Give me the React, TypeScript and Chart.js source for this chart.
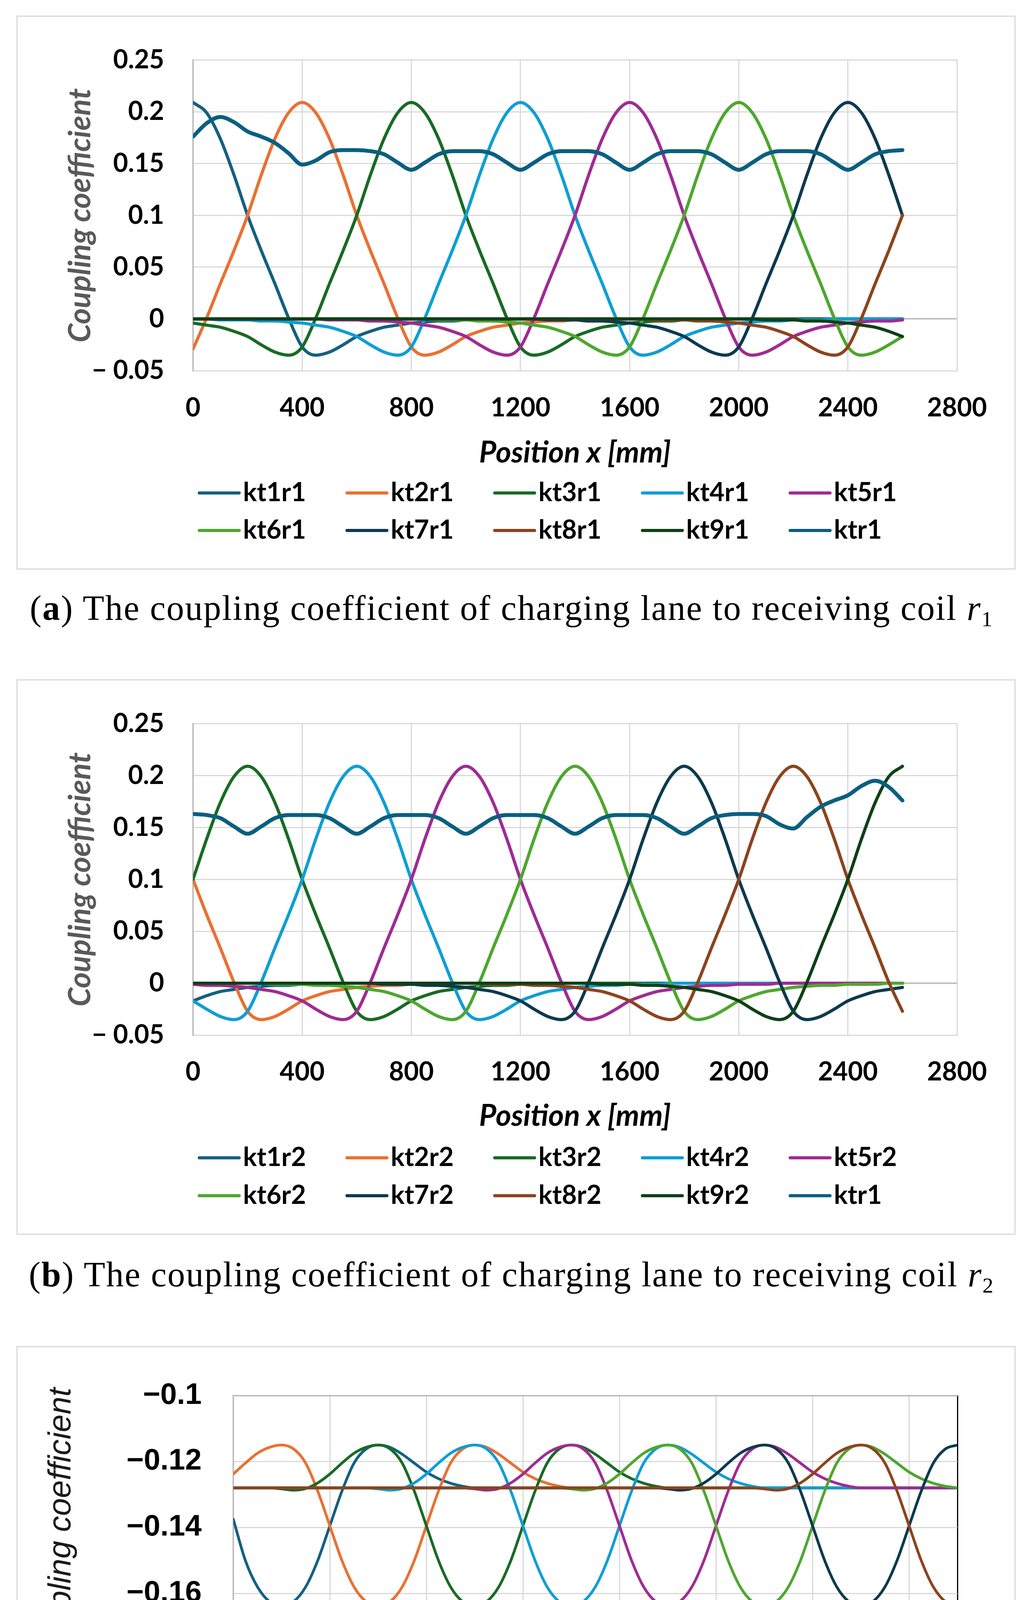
import React, { useEffect, useRef } from 'react';
import { Chart, registerables } from 'chart.js';

Chart.register(...registerables);

// ---------------- data ----------------
const positionsAB = [0,50,100,150,200,250,300,350,400,450,500,550,600,650,700,750,800,850,900,950,1000,1050,1100,1150,1200,1250,1300,1350,1400,1450,1500,1550,1600,1650,1700,1750,1800,1850,1900,1950,2000,2050,2100,2150,2200,2250,2300,2350,2400,2450,2500,2550,2600];
const positionsC = [0,50,100,150,200,250,300,350,400,450,500,550,600,650,700,750,800,850,900,950,1000,1050,1100,1150,1200,1250,1300,1350,1400,1450,1500,1550,1600,1650,1700,1750,1800,1850,1900,1950,2000,2050,2100,2150,2200,2250,2300,2350,2400,2450,2500,2550,2600,2650,2700,2750,2800,2850,2900,2950,3000];

const xTicksAB = [0, 400, 800, 1200, 1600, 2000, 2400, 2800];
const xTickLabelsAB = ['0', '400', '800', '1200', '1600', '2000', '2400', '2800'];
const yTicksAB = [-0.05, 0, 0.05, 0.1, 0.15, 0.2, 0.25];
const yTickLabelsAB = ['\u2212 0.05', '0', '0.05', '0.1', '0.15', '0.2', '0.25'];
const xTicksC = [0, 400, 800, 1200, 1600, 2000, 2400, 2800, 3000];
const xTickLabelsC = ['0', '400', '800', '1200', '1600', '2000', '2400', '2800', ''];
const yTicksC = [-0.18, -0.16, -0.14, -0.12, -0.1];
const yTickLabelsC = ['\u22120.18', '\u22120.16', '\u22120.14', '\u22120.12', '\u22120.1'];

const namesA = ['kt1r1', 'kt2r1', 'kt3r1', 'kt4r1', 'kt5r1', 'kt6r1', 'kt7r1', 'kt8r1', 'kt9r1', 'ktr1'];
const namesB = ['kt1r2', 'kt2r2', 'kt3r2', 'kt4r2', 'kt5r2', 'kt6r2', 'kt7r2', 'kt8r2', 'kt9r2', 'ktr1'];
const namesC = ['kt1t2', 'kt2t3', 'kt3t4', 'kt4t5', 'kt5t6', 'kt6t7', 'kt7t8', 'kt8t9'];

const colorsAB = ['#156082', '#E97132', '#196B24', '#0F9ED5', '#A02B93', '#4EA72E', '#0D3A4E', '#8C441E', '#0F4016', '#095F80'];
const colorsC = ['#156082', '#E97132', '#196B24', '#0F9ED5', '#A02B93', '#4EA72E', '#0D3A4E', '#8C441E'];

// panel (a): receiving coil r1
const kt1r1 = [0.209,0.199,0.174,0.139,0.100,0.066,0.034,0.001,-0.027,-0.035,
  -0.032,-0.025,-0.017,-0.012,-0.008,-0.006,-0.004,-0.003,-0.002,-0.002,
  -0.001,-0.001,-0.001,0,0,0,0,0,0,0,
  0,0,0,0,0,0,0,0,0,0,
  0,0,0,0,0,0,0,0,0,0,
  0,0,0];
const kt2r1 = [-0.029,0.001,0.034,0.066,0.100,0.139,0.174,0.199,0.209,0.199,
  0.174,0.139,0.100,0.066,0.034,0.001,-0.027,-0.035,-0.032,-0.025,
  -0.017,-0.012,-0.008,-0.006,-0.004,-0.003,-0.002,-0.002,-0.001,-0.001,
  -0.001,0,0,0,0,0,0,0,0,0,
  0,0,0,0,0,0,0,0,0,0,
  0,0,0];
const kt3r1 = [-0.004,-0.006,-0.008,-0.012,-0.017,-0.025,-0.032,-0.035,-0.027,0.001,
  0.034,0.066,0.100,0.139,0.174,0.199,0.209,0.199,0.174,0.139,
  0.100,0.066,0.034,0.001,-0.027,-0.035,-0.032,-0.025,-0.017,-0.012,
  -0.008,-0.006,-0.004,-0.003,-0.002,-0.002,-0.001,-0.001,-0.001,0,
  0,0,0,0,0,0,0,0,0,0,
  0,0,0];
const kt4r1 = [0,0,-0.001,-0.001,-0.001,-0.002,-0.002,-0.003,-0.004,-0.006,
  -0.008,-0.012,-0.017,-0.025,-0.032,-0.035,-0.027,0.001,0.034,0.066,
  0.100,0.139,0.174,0.199,0.209,0.199,0.174,0.139,0.100,0.066,
  0.034,0.001,-0.027,-0.035,-0.032,-0.025,-0.017,-0.012,-0.008,-0.006,
  -0.004,-0.003,-0.002,-0.002,-0.001,-0.001,-0.001,0,0,0,
  0,0,0];
const kt5r1 = [0,0,0,0,0,0,0,0,0,0,
  -0.001,-0.001,-0.001,-0.002,-0.002,-0.003,-0.004,-0.006,-0.008,-0.012,
  -0.017,-0.025,-0.032,-0.035,-0.027,0.001,0.034,0.066,0.100,0.139,
  0.174,0.199,0.209,0.199,0.174,0.139,0.100,0.066,0.034,0.001,
  -0.027,-0.035,-0.032,-0.025,-0.017,-0.012,-0.008,-0.006,-0.004,-0.003,
  -0.002,-0.002,-0.001];
const kt6r1 = [0,0,0,0,0,0,0,0,0,0,
  0,0,0,0,0,0,0,0,-0.001,-0.001,
  -0.001,-0.002,-0.002,-0.003,-0.004,-0.006,-0.008,-0.012,-0.017,-0.025,
  -0.032,-0.035,-0.027,0.001,0.034,0.066,0.100,0.139,0.174,0.199,
  0.209,0.199,0.174,0.139,0.100,0.066,0.034,0.001,-0.027,-0.035,
  -0.032,-0.025,-0.017];
const kt7r1 = [0,0,0,0,0,0,0,0,0,0,
  0,0,0,0,0,0,0,0,0,0,
  0,0,0,0,0,0,-0.001,-0.001,-0.001,-0.002,
  -0.002,-0.003,-0.004,-0.006,-0.008,-0.012,-0.017,-0.025,-0.032,-0.035,
  -0.027,0.001,0.034,0.066,0.100,0.139,0.174,0.199,0.209,0.199,
  0.174,0.139,0.100];
const kt8r1 = [0,0,0,0,0,0,0,0,0,0,
  0,0,0,0,0,0,0,0,0,0,
  0,0,0,0,0,0,0,0,0,0,
  0,0,0,0,-0.001,-0.001,-0.001,-0.002,-0.002,-0.003,
  -0.004,-0.006,-0.008,-0.012,-0.017,-0.025,-0.032,-0.035,-0.027,0.001,
  0.034,0.066,0.100];
const kt9r1 = [0,0,0,0,0,0,0,0,0,0,
  0,0,0,0,0,0,0,0,0,0,
  0,0,0,0,0,0,0,0,0,0,
  0,0,0,0,0,0,0,0,0,0,
  0,0,-0.001,-0.001,-0.001,-0.002,-0.002,-0.003,-0.004,-0.006,
  -0.008,-0.012,-0.017];
const ktr1A = [0.176,0.189,0.195,0.190,0.181,0.176,0.170,0.160,0.149,0.153,
  0.161,0.163,0.163,0.162,0.159,0.151,0.144,0.151,0.159,0.162,
  0.162,0.162,0.159,0.151,0.144,0.151,0.159,0.162,0.162,0.162,
  0.159,0.151,0.144,0.151,0.159,0.162,0.162,0.162,0.159,0.151,
  0.144,0.151,0.159,0.162,0.162,0.162,0.159,0.151,0.144,0.151,
  0.159,0.162,0.163];

// panel (b): receiving coil r2
const kt1r2 = [-0.017,-0.012,-0.008,-0.006,-0.004,-0.003,-0.002,-0.002,-0.001,-0.001,
  -0.001,0,0,0,0,0,0,0,0,0,
  0,0,0,0,0,0,0,0,0,0,
  0,0,0,0,0,0,0,0,0,0,
  0,0,0,0,0,0,0,0,0,0,
  0,0,0];
const kt2r2 = [0.100,0.066,0.034,0.001,-0.027,-0.035,-0.032,-0.025,-0.017,-0.012,
  -0.008,-0.006,-0.004,-0.003,-0.002,-0.002,-0.001,-0.001,-0.001,0,
  0,0,0,0,0,0,0,0,0,0,
  0,0,0,0,0,0,0,0,0,0,
  0,0,0,0,0,0,0,0,0,0,
  0,0,0];
const kt3r2 = [0.100,0.139,0.174,0.199,0.209,0.199,0.174,0.139,0.100,0.066,
  0.034,0.001,-0.027,-0.035,-0.032,-0.025,-0.017,-0.012,-0.008,-0.006,
  -0.004,-0.003,-0.002,-0.002,-0.001,-0.001,-0.001,0,0,0,
  0,0,0,0,0,0,0,0,0,0,
  0,0,0,0,0,0,0,0,0,0,
  0,0,0];
const kt4r2 = [-0.017,-0.025,-0.032,-0.035,-0.027,0.001,0.034,0.066,0.100,0.139,
  0.174,0.199,0.209,0.199,0.174,0.139,0.100,0.066,0.034,0.001,
  -0.027,-0.035,-0.032,-0.025,-0.017,-0.012,-0.008,-0.006,-0.004,-0.003,
  -0.002,-0.002,-0.001,-0.001,-0.001,0,0,0,0,0,
  0,0,0,0,0,0,0,0,0,0,
  0,0,0];
const kt5r2 = [-0.001,-0.002,-0.002,-0.003,-0.004,-0.006,-0.008,-0.012,-0.017,-0.025,
  -0.032,-0.035,-0.027,0.001,0.034,0.066,0.100,0.139,0.174,0.199,
  0.209,0.199,0.174,0.139,0.100,0.066,0.034,0.001,-0.027,-0.035,
  -0.032,-0.025,-0.017,-0.012,-0.008,-0.006,-0.004,-0.003,-0.002,-0.002,
  -0.001,-0.001,-0.001,0,0,0,0,0,0,0,
  0,0,0];
const kt6r2 = [0,0,0,0,0,0,-0.001,-0.001,-0.001,-0.002,
  -0.002,-0.003,-0.004,-0.006,-0.008,-0.012,-0.017,-0.025,-0.032,-0.035,
  -0.027,0.001,0.034,0.066,0.100,0.139,0.174,0.199,0.209,0.199,
  0.174,0.139,0.100,0.066,0.034,0.001,-0.027,-0.035,-0.032,-0.025,
  -0.017,-0.012,-0.008,-0.006,-0.004,-0.003,-0.002,-0.002,-0.001,-0.001,
  -0.001,0,0];
const kt7r2 = [0,0,0,0,0,0,0,0,0,0,
  0,0,0,0,-0.001,-0.001,-0.001,-0.002,-0.002,-0.003,
  -0.004,-0.006,-0.008,-0.012,-0.017,-0.025,-0.032,-0.035,-0.027,0.001,
  0.034,0.066,0.100,0.139,0.174,0.199,0.209,0.199,0.174,0.139,
  0.100,0.066,0.034,0.001,-0.027,-0.035,-0.032,-0.025,-0.017,-0.012,
  -0.008,-0.006,-0.004];
const kt8r2 = [0,0,0,0,0,0,0,0,0,0,
  0,0,0,0,0,0,0,0,0,0,
  0,0,-0.001,-0.001,-0.001,-0.002,-0.002,-0.003,-0.004,-0.006,
  -0.008,-0.012,-0.017,-0.025,-0.032,-0.035,-0.027,0.001,0.034,0.066,
  0.100,0.139,0.174,0.199,0.209,0.199,0.174,0.139,0.100,0.066,
  0.034,0.001,-0.027];
const kt9r2 = [0,0,0,0,0,0,0,0,0,0,
  0,0,0,0,0,0,0,0,0,0,
  0,0,0,0,0,0,0,0,0,0,
  -0.001,-0.001,-0.001,-0.002,-0.002,-0.003,-0.004,-0.006,-0.008,-0.012,
  -0.017,-0.025,-0.032,-0.035,-0.027,0.001,0.034,0.066,0.100,0.139,
  0.174,0.199,0.209];
const ktr1B = [0.163,0.162,0.159,0.151,0.144,0.151,0.159,0.162,0.162,0.162,
  0.159,0.151,0.144,0.151,0.159,0.162,0.162,0.162,0.159,0.151,
  0.144,0.151,0.159,0.162,0.162,0.162,0.159,0.151,0.144,0.151,
  0.159,0.162,0.162,0.162,0.159,0.151,0.144,0.151,0.159,0.162,
  0.163,0.163,0.161,0.153,0.149,0.160,0.170,0.176,0.181,0.190,
  0.195,0.189,0.176];

// panel (c): adjacent transmitting coils
const kt1t2 = [-0.1375,-0.1500,-0.1580,-0.1625,-0.1640,-0.1625,-0.1580,-0.1500,-0.1395,-0.1290,
  -0.1205,-0.1162,-0.1150,-0.1157,-0.1178,-0.1205,-0.1232,-0.1252,-0.1266,-0.1275,
  -0.1280,-0.128,-0.128,-0.128,-0.128,-0.128,-0.128,-0.128,-0.128,-0.128,
  -0.128,-0.128,-0.128,-0.128,-0.128,-0.128,-0.128,-0.128,-0.128,-0.128,
  -0.128,-0.128,-0.128,-0.128,-0.128,-0.128,-0.128,-0.128,-0.128,-0.128,
  -0.128,-0.128,-0.128,-0.128,-0.128,-0.128,-0.128,-0.128,-0.128,-0.128,
  -0.128];
const kt2t3 = [-0.1238,-0.1205,-0.1175,-0.1157,-0.1150,-0.1162,-0.1205,-0.1290,-0.1395,-0.1500,
  -0.1580,-0.1625,-0.1640,-0.1625,-0.1580,-0.1500,-0.1395,-0.1290,-0.1205,-0.1162,
  -0.1150,-0.1157,-0.1178,-0.1205,-0.1232,-0.1252,-0.1266,-0.1275,-0.1280,-0.128,
  -0.128,-0.128,-0.128,-0.128,-0.128,-0.128,-0.128,-0.128,-0.128,-0.128,
  -0.128,-0.128,-0.128,-0.128,-0.128,-0.128,-0.128,-0.128,-0.128,-0.128,
  -0.128,-0.128,-0.128,-0.128,-0.128,-0.128,-0.128,-0.128,-0.128,-0.128,
  -0.128];
const kt3t4 = [-0.128,-0.128,-0.128,-0.128,-0.1283,-0.1287,-0.1282,-0.1265,-0.1238,-0.1205,
  -0.1175,-0.1157,-0.1150,-0.1162,-0.1205,-0.1290,-0.1395,-0.1500,-0.1580,-0.1625,
  -0.1640,-0.1625,-0.1580,-0.1500,-0.1395,-0.1290,-0.1205,-0.1162,-0.1150,-0.1157,
  -0.1178,-0.1205,-0.1232,-0.1252,-0.1266,-0.1275,-0.1280,-0.128,-0.128,-0.128,
  -0.128,-0.128,-0.128,-0.128,-0.128,-0.128,-0.128,-0.128,-0.128,-0.128,
  -0.128,-0.128,-0.128,-0.128,-0.128,-0.128,-0.128,-0.128,-0.128,-0.128,
  -0.128];
const kt4t5 = [-0.128,-0.128,-0.128,-0.128,-0.128,-0.128,-0.128,-0.128,-0.128,-0.128,
  -0.128,-0.128,-0.1283,-0.1287,-0.1282,-0.1265,-0.1238,-0.1205,-0.1175,-0.1157,
  -0.1150,-0.1162,-0.1205,-0.1290,-0.1395,-0.1500,-0.1580,-0.1625,-0.1640,-0.1625,
  -0.1580,-0.1500,-0.1395,-0.1290,-0.1205,-0.1162,-0.1150,-0.1157,-0.1178,-0.1205,
  -0.1232,-0.1252,-0.1266,-0.1275,-0.1280,-0.128,-0.128,-0.128,-0.128,-0.128,
  -0.128,-0.128,-0.128,-0.128,-0.128,-0.128,-0.128,-0.128,-0.128,-0.128,
  -0.128];
const kt5t6 = [-0.128,-0.128,-0.128,-0.128,-0.128,-0.128,-0.128,-0.128,-0.128,-0.128,
  -0.128,-0.128,-0.128,-0.128,-0.128,-0.128,-0.128,-0.128,-0.128,-0.128,
  -0.1283,-0.1287,-0.1282,-0.1265,-0.1238,-0.1205,-0.1175,-0.1157,-0.1150,-0.1162,
  -0.1205,-0.1290,-0.1395,-0.1500,-0.1580,-0.1625,-0.1640,-0.1625,-0.1580,-0.1500,
  -0.1395,-0.1290,-0.1205,-0.1162,-0.1150,-0.1157,-0.1178,-0.1205,-0.1232,-0.1252,
  -0.1266,-0.1275,-0.1280,-0.128,-0.128,-0.128,-0.128,-0.128,-0.128,-0.128,
  -0.128];
const kt6t7 = [-0.128,-0.128,-0.128,-0.128,-0.128,-0.128,-0.128,-0.128,-0.128,-0.128,
  -0.128,-0.128,-0.128,-0.128,-0.128,-0.128,-0.128,-0.128,-0.128,-0.128,
  -0.128,-0.128,-0.128,-0.128,-0.128,-0.128,-0.128,-0.128,-0.1283,-0.1287,
  -0.1282,-0.1265,-0.1238,-0.1205,-0.1175,-0.1157,-0.1150,-0.1162,-0.1205,-0.1290,
  -0.1395,-0.1500,-0.1580,-0.1625,-0.1640,-0.1625,-0.1580,-0.1500,-0.1395,-0.1290,
  -0.1205,-0.1162,-0.1150,-0.1157,-0.1178,-0.1205,-0.1232,-0.1252,-0.1266,-0.1275,
  -0.1280];
const kt7t8 = [-0.128,-0.128,-0.128,-0.128,-0.128,-0.128,-0.128,-0.128,-0.128,-0.128,
  -0.128,-0.128,-0.128,-0.128,-0.128,-0.128,-0.128,-0.128,-0.128,-0.128,
  -0.128,-0.128,-0.128,-0.128,-0.128,-0.128,-0.128,-0.128,-0.128,-0.128,
  -0.128,-0.128,-0.128,-0.128,-0.128,-0.128,-0.1283,-0.1287,-0.1282,-0.1265,
  -0.1238,-0.1205,-0.1175,-0.1157,-0.1150,-0.1162,-0.1205,-0.1290,-0.1395,-0.1500,
  -0.1580,-0.1625,-0.1640,-0.1625,-0.1580,-0.1500,-0.1395,-0.1290,-0.1205,-0.1162,
  -0.1150];
const kt8t9 = [-0.128,-0.128,-0.128,-0.128,-0.128,-0.128,-0.128,-0.128,-0.128,-0.128,
  -0.128,-0.128,-0.128,-0.128,-0.128,-0.128,-0.128,-0.128,-0.128,-0.128,
  -0.128,-0.128,-0.128,-0.128,-0.128,-0.128,-0.128,-0.128,-0.128,-0.128,
  -0.128,-0.128,-0.128,-0.128,-0.128,-0.128,-0.128,-0.128,-0.128,-0.128,
  -0.128,-0.128,-0.128,-0.128,-0.1283,-0.1287,-0.1282,-0.1265,-0.1238,-0.1205,
  -0.1175,-0.1157,-0.1150,-0.1162,-0.1205,-0.1290,-0.1395,-0.1500,-0.1580,-0.1625,
  -0.1640];

const seriesA = [kt1r1, kt2r1, kt3r1, kt4r1, kt5r1, kt6r1, kt7r1, kt8r1, kt9r1, ktr1A];
const seriesB = [kt1r2, kt2r2, kt3r2, kt4r2, kt5r2, kt6r2, kt7r2, kt8r2, kt9r2, ktr1B];
const seriesC = [kt1t2, kt2t3, kt3t4, kt4t5, kt5t6, kt6t7, kt7t8, kt8t9];

// ---------------- chart building ----------------
function makeLegendPlugin(lg: any) {
  return {
    id: 'gridLegend',
    afterDraw(chart: any) {
      const ctx = chart.ctx;
      ctx.save();
      chart.data.datasets.forEach((ds: any, i: number) => {
        const r = Math.floor(i / lg.perRow);
        const c = i % lg.perRow;
        const x = lg.cols[c];
        const y = lg.rows[r];
        ctx.strokeStyle = ds.borderColor;
        ctx.lineWidth = lg.lineWidth;
        ctx.lineCap = 'round';
        ctx.beginPath();
        ctx.moveTo(x, y);
        ctx.lineTo(x + lg.lineLen, y);
        ctx.stroke();
        ctx.fillStyle = '#000';
        ctx.font = lg.font;
        ctx.textBaseline = 'middle';
        ctx.textAlign = 'left';
        ctx.fillText(ds.label, x + lg.textGap, y + lg.textDy);
      });
      ctx.restore();
    },
  };
}

function labeler(ticks: number[], labels: string[]) {
  return (v: any) => {
    const k = ticks.findIndex((t) => Math.abs(t - Number(v)) < 1e-9);
    return k >= 0 ? labels[k] : '';
  };
}

function buildConfig(s: any): any {
  const datasets = s.series.map((d: number[], i: number) => ({
    label: s.names[i],
    data: d,
    borderColor: s.colors[i],
    backgroundColor: s.colors[i],
    borderWidth: s.widths[i],
    pointRadius: 0,
    pointHoverRadius: 0,
    fill: false,
    cubicInterpolationMode: 'monotone',
    borderJoinStyle: 'round',
    borderCapStyle: 'round',
    order: -i,
  }));
  return {
    type: 'line',
    data: { labels: s.x, datasets },
    plugins: [makeLegendPlugin(s.legend)],
    options: {
      animation: false,
      responsive: false,
      devicePixelRatio: 1,
      events: [],
      layout: { padding: { left: 0, top: s.padTop, right: s.padRight, bottom: s.padBottom } },
      plugins: { legend: { display: false }, tooltip: { enabled: false } },
      scales: {
        x: {
          type: 'linear',
          min: s.xMin,
          max: s.xMax,
          afterBuildTicks: (sc: any) => { sc.ticks = s.xTicks.map((v: number) => ({ value: v })); },
          afterFit: (sc: any) => { sc.height = s.xAxisHeight; },
          ticks: {
            autoSkip: false, maxRotation: 0, minRotation: 0,
            padding: s.xTickPad, color: '#000', font: s.tickFont,
            callback: labeler(s.xTicks, s.xTickLabels),
          },
          grid: { drawTicks: false, color: s.xGridColor, lineWidth: s.xGridWidth },
          border: { display: true, color: s.xBorderColor, width: s.xBorderWidth },
          title: {
            display: true, text: 'Position x [mm]', color: '#000', font: s.xTitleFont,
            padding: { top: 0, bottom: s.xTitlePad },
          },
        },
        y: {
          type: 'linear',
          min: s.yMin,
          max: s.yMax,
          afterBuildTicks: (sc: any) => { sc.ticks = s.yTicks.map((v: number) => ({ value: v })); },
          afterFit: (sc: any) => { sc.width = s.yAxisWidth; },
          ticks: {
            autoSkip: false, padding: s.yTickPad, color: '#000', font: s.yTickFont,
            callback: labeler(s.yTicks, s.yTickLabels),
          },
          grid: { drawTicks: false, color: s.yGridColor, lineWidth: s.yGridWidth },
          border: { display: true, color: '#bfbfbf', width: 4 },
          title: {
            display: true, text: 'Coupling coefficient', color: s.yTitleColor, font: s.yTitleFont,
            padding: { top: s.yTitlePad, bottom: 0 },
          },
        },
      },
    },
  };
}

function ChartBox({ spec }: { spec: any }) {
  const ref = useRef<HTMLCanvasElement | null>(null);
  useEffect(() => {
    if (!ref.current) return;
    const chart = new Chart(ref.current, buildConfig(spec));
    return () => chart.destroy();
  }, [spec]);
  return (
    <>
      <div
        style={{
          position: 'absolute', left: spec.left, top: spec.top, width: spec.width, height: spec.height,
          boxSizing: 'border-box', border: '3px solid #d9d9d9', background: '#fff',
        }}
      />
      <canvas
        ref={ref}
        width={spec.width}
        height={spec.height}
        style={{ position: 'absolute', left: spec.left, top: spec.top, width: spec.width, height: spec.height }}
      />
    </>
  );
}

const abCommon = {
  left: 42, width: 2557,
  x: positionsAB, xMin: 0, xMax: 2800, xTicks: xTicksAB, xTickLabels: xTickLabelsAB,
  yMin: -0.05, yMax: 0.25, yTicks: yTicksAB, yTickLabels: yTickLabelsAB,
  colors: colorsAB, widths: [8, 8, 8, 8, 8, 8, 8, 8, 8, 10],
  padRight: 150, yAxisWidth: 452, xAxisHeight: 260,
  tickFont: { family: 'Lato', size: 66, weight: 'bold' },
  yTickFont: { family: 'Lato', size: 66, weight: 'bold' },
  xTitleFont: { family: 'Lato', size: 76, weight: 'bold', style: 'italic' },
  yTitleFont: { family: 'Lato', size: 78, weight: 'bold', style: 'italic' },
  yTitleColor: '#595959', yTitlePad: 117, yTickPad: 74,
  xGridColor: '#d9d9d9', xGridWidth: 3, xBorderColor: '#d9d9d9', xBorderWidth: 3,
  yGridColor: (c: any) => (c.tick && Math.abs(c.tick.value) < 1e-9 ? '#bfbfbf' : '#d9d9d9'),
  yGridWidth: (c: any) => (c.tick && Math.abs(c.tick.value) < 1e-9 ? 4 : 3),
};

const specA = {
  ...abCommon,
  top: 40, height: 1418, padTop: 70, padBottom: 249, xTickPad: 56, xTitlePad: 4,
  names: namesA, series: seriesA,
  legend: { cols: [468, 846, 1224, 1602, 1980], rows: [1222, 1318], perRow: 5, lineLen: 102, textGap: 112, textDy: 0, lineWidth: 8, font: 'bold 66px Lato' },
};

const specB = {
  ...abCommon,
  top: 1739, height: 1422, padTop: 71, padBottom: 251, xTickPad: 55, xTitlePad: 7,
  names: namesB, series: seriesB,
  legend: { cols: [468, 846, 1224, 1602, 1980], rows: [1225, 1322], perRow: 5, lineLen: 102, textGap: 112, textDy: 0, lineWidth: 8, font: 'bold 66px Lato' },
};

const specC = {
  left: 42, width: 2557, top: 3446, height: 1335,
  x: positionsC, xMin: 0, xMax: 3000, xTicks: xTicksC, xTickLabels: xTickLabelsC,
  yMin: -0.18, yMax: -0.1, yTicks: yTicksC, yTickLabels: yTickLabelsC,
  names: namesC, series: seriesC, colors: colorsC, widths: [7, 7, 7, 7, 7, 7, 7, 7],
  padTop: 88, padRight: 149, padBottom: 253, yAxisWidth: 555, xAxisHeight: 280,
  xTickPad: 63, xTitlePad: 1,
  tickFont: { family: 'Liberation Sans', size: 75, weight: 'bold' },
  yTickFont: { family: 'Liberation Sans', size: 76, weight: 'bold' },
  xTitleFont: { family: 'Liberation Sans', size: 78, style: 'italic' },
  yTitleFont: { family: 'Liberation Sans', size: 82, style: 'italic' },
  yTitleColor: '#1a1a1a', yTitlePad: 66, yTickPad: 81,
  xGridColor: (c: any) => (c.tick && c.tick.value === 3000 ? '#000' : '#d9d9d9'),
  xGridWidth: 3, xBorderColor: '#000', xBorderWidth: 4,
  yGridColor: (c: any) => (c.tick && Math.abs(c.tick.value + 0.1) < 1e-9 ? '#bfbfbf' : '#d9d9d9'),
  yGridWidth: (c: any) => (c.tick && Math.abs(c.tick.value + 0.1) < 1e-9 ? 4 : 3),
  legend: { cols: [630, 1084, 1536, 1990], rows: [1148, 1246], perRow: 4, lineLen: 115, textGap: 128, textDy: 0, lineWidth: 8, font: '75px "Liberation Sans"' },
};

const captionStyle: React.CSSProperties = {
  position: 'absolute', left: -14, width: 2646, textAlign: 'center',
  fontFamily: '"Liberation Serif", "Times New Roman", serif', fontSize: 90, lineHeight: '100px',
  letterSpacing: '2.4px', color: '#000', whiteSpace: 'nowrap',
};
const subStyle: React.CSSProperties = { fontSize: '62%', verticalAlign: '-0.28em', lineHeight: 0 };

export default function App() {
  return (
    <div style={{ position: 'absolute', left: 0, top: 0, width: 2646, height: 4959, background: '#fff', overflow: 'hidden' }}>
      <ChartBox spec={specA} />
      <div style={{ ...captionStyle, top: 1507 }}>
        (<b>a</b>) The coupling coefficient of charging lane to receiving coil <i>r</i><sub style={subStyle}>1</sub>
      </div>
      <ChartBox spec={specB} />
      <div style={{ ...captionStyle, top: 3213 }}>
        (<b>b</b>) The coupling coefficient of charging lane to receiving coil <i>r</i><sub style={subStyle}>2</sub>
      </div>
      <ChartBox spec={specC} />
      <div style={{ ...captionStyle, top: 4832 }}>
        (<b>c</b>) The coupling coefficient of adjacent transmitting coils
      </div>
    </div>
  );
}
